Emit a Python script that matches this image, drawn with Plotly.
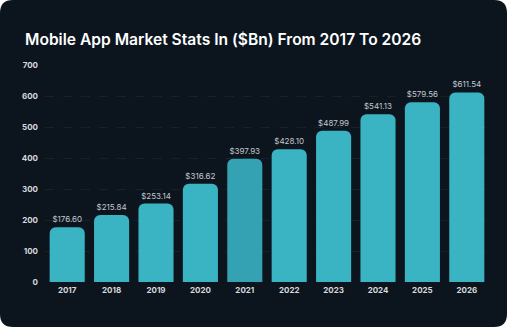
import plotly.graph_objects as go

# Mobile app market size in $Bn
years = ["2017", "2018", "2019", "2020", "2021", "2022", "2023", "2024", "2025", "2026"]
market_bn = [176.60, 215.84, 253.14, 316.62, 397.93, 428.10, 487.99, 541.13, 579.56, 611.54]
y_ticks = [0, 100, 200, 300, 400, 500, 600, 700]

W, H = 509, 328
ML, MR, MT, MB = 45, 20, 65, 46
PW, PH = W - ML - MR, H - MT - MB

BAR = "#3ab4c3"
BAR_DARK = "#34a2b2"
CARD = "#0c151e"
colors = [BAR_DARK if y == "2021" else BAR for y in years]


def px_to_paper(x, y):
    return (x - ML) / PW, (H - MB - y) / PH


def rounded_card(x0, y0, x1, y1, r):
    def p(x, y):
        a, b = px_to_paper(x, y)
        return f"{a:.5f},{b:.5f}"
    return (
        f"M {p(x0 + r, y0)} L {p(x1 - r, y0)} Q {p(x1, y0)} {p(x1, y0 + r)} "
        f"L {p(x1, y1 - r)} Q {p(x1, y1)} {p(x1 - r, y1)} "
        f"L {p(x0 + r, y1)} Q {p(x0, y1)} {p(x0, y1 - r)} "
        f"L {p(x0, y0 + r)} Q {p(x0, y0)} {p(x0 + r, y0)} Z"
    )


fig = go.Figure(
    go.Bar(
        x=years,
        y=market_bn,
        marker=dict(color=colors, cornerradius=6, line=dict(width=0)),
        text=[f"${v:.2f}" for v in market_bn],
        textposition="outside",
        textfont=dict(family="Inter", size=8, color="#c3c8ce"),
        cliponaxis=False,
        width=0.79,
    )
)

fig.add_shape(
    type="path",
    xref="paper",
    yref="paper",
    path=rounded_card(0, 0, 507, 327, 13),
    fillcolor=CARD,
    line=dict(width=0),
    layer="below",
)

fig.update_layout(
    width=W,
    height=H,
    margin=dict(l=ML, r=MR, t=MT, b=MB),
    paper_bgcolor="white",
    plot_bgcolor="rgba(0,0,0,0)",
    showlegend=False,
    font=dict(family="Inter", color="#d6dadf"),
    title=dict(
        text="Mobile App Market Stats In ($Bn) From 2017 To 2026",
        x=25 / W,
        xanchor="left",
        y=1 - 40 / H,
        yanchor="middle",
        font=dict(family="Inter", size=15.6, color="#ffffff", weight=600),
    ),
    xaxis=dict(
        showgrid=False,
        showline=False,
        zeroline=False,
        ticks="",
        tickfont=dict(family="Inter", size=8, color="#d6dadf", weight="bold"),
        ticklabelstandoff=2,
    ),
    yaxis=dict(
        range=[0, 700],
        tickvals=y_ticks,
        showgrid=True,
        gridcolor="rgba(255,255,255,0.05)",
        griddash="dash",
        gridwidth=1,
        zeroline=False,
        showline=False,
        ticks="",
        tickfont=dict(family="Inter", size=8, color="#d6dadf", weight="bold"),
        ticklabelstandoff=6,
    ),
)

fig.write_html("out.html")
